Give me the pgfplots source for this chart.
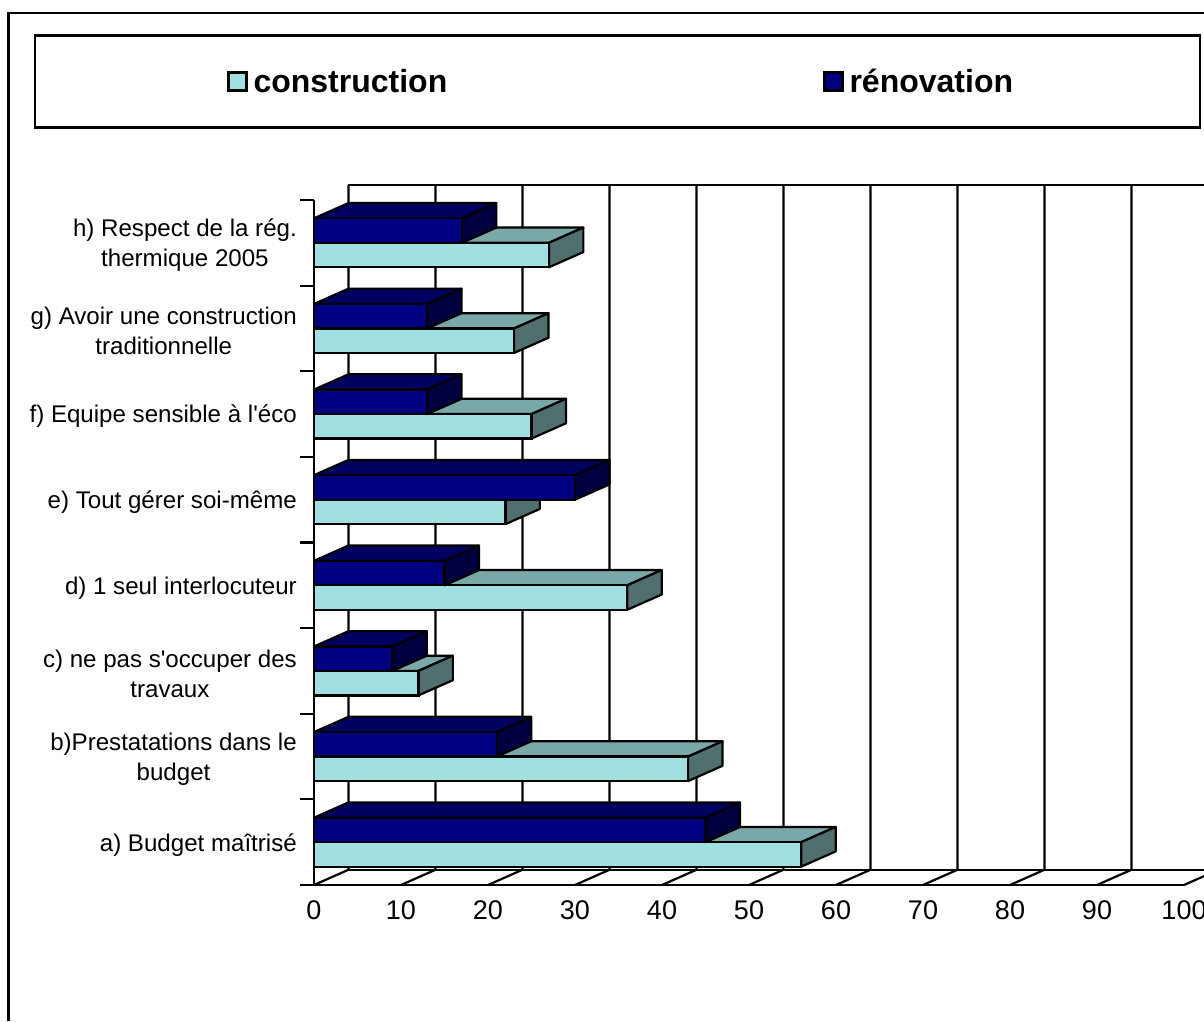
\documentclass[border=0pt]{standalone}
\usepackage{pgfplots}
\usepackage{pgfplotstable}
\usepackage{fontspec}
\setmainfont{Liberation Sans}
\newfontfamily\lfont{Liberation Sans}
\pgfplotsset{compat=1.18}
\definecolor{cfront}{HTML}{A0E0E0}
\definecolor{ctop}{HTML}{78A8A8}
\definecolor{cside}{HTML}{507070}
\definecolor{rfront}{HTML}{000080}
\definecolor{rtop}{HTML}{000060}
\definecolor{rside}{HTML}{000040}
\pgfplotstableread{
pos constr renov
0.5 56 45
1.5 43 21
2.5 12 9
3.5 36 15
4.5 22 30
5.5 25 13
6.5 23 13
7.5 27 17
}\chartdata
\def\dpx{3.96}
\def\dpy{0.178}
\def\bw{0.286}
% #1 y bottom of front, #2 value, #3 top colour, #4 side colour
\newcommand{\depthfaces}[4]{%
  \pgfmathsetmacro\yt{#1+\bw}%
  \pgfmathsetmacro\ytb{#1+\bw+\dpy}%
  \pgfmathsetmacro\ybb{#1+\dpy}%
  \pgfmathsetmacro\xb{#2+\dpx}%
  \addplot[forget plot,fill=#3,draw=black,line width=2.2pt,line join=round] coordinates {(0,\yt) (#2,\yt) (\xb,\ytb) (\dpx,\ytb)} --cycle;
  \addplot[forget plot,fill=#4,draw=black,line width=2.2pt,line join=round] coordinates {(#2,#1) (\xb,\ybb) (\xb,\ytb) (#2,\yt)} --cycle;
}
\begin{document}
\begin{tikzpicture}[x=1pt,y=1pt]
\useasboundingbox (0,0) rectangle (1204,1021);
\draw[line width=2.2pt] (8.5,0) -- (8.5,1008) -- (1204,1008);
\begin{axis}[
  at={(314pt,136pt)},anchor=south west,
  scale only axis,width=870pt,height=685pt,
  xmin=0,xmax=100,ymin=0,ymax=8,clip=false,
  axis x line*=bottom,axis y line*=left,
  axis line style={line width=2.2pt,-},
  xtick={0,10,...,100},
  ytick={0.5,1.5,...,7.5},
  minor ytick={0,1,...,8},
  yticklabels={{a) Budget maîtrisé},{b)Prestatations dans le\\budget},{c) ne pas s'occuper des\\travaux},{d) 1 seul interlocuteur},{e) Tout gérer soi-même},{f) Equipe sensible à l'éco},{g) Avoir une construction\\traditionnelle},{h) Respect de la rég.\\thermique 2005}},
  major tick length=0pt,minor tick length=14pt,tick align=outside,
  minor tick style={line width=2.2pt,black},
  /pgf/number format/assume math mode=true,
  xticklabel style={font=\fontsize{27}{32}\selectfont,inner sep=0pt,yshift=-15pt},
  yticklabel style={font=\lfont\fontsize{24.1}{30}\selectfont,align=center,inner sep=0pt,xshift=-17pt,yshift=-2.5pt},
  legend columns=2,
  legend image code/.code={\draw[#1,line width=2.2pt] (0pt,-9pt) rectangle (18pt,9pt);},
  legend style={at={(axis description cs:0.3491,1.173)},anchor=center,draw=black,line width=2.2pt,
    minimum width=1165pt,minimum height=92pt,
    nodes={minimum width=0pt,minimum height=0pt,inner sep=6pt,draw=none,line width=0pt},
    font=\fontsize{32}{38}\selectfont\bfseries,
    /tikz/every even column/.append style={column sep=370pt}},
]
% walls and floor
\pgfplotsinvokeforeach{0,10,...,100}{
  \pgfmathsetmacro\xw{#1+\dpx}
  \addplot[forget plot,black,line width=2.2pt] coordinates {(#1,0) (\xw,\dpy) (\xw,8.178)};
}
\addplot[forget plot,black,line width=2.2pt] coordinates {(\dpx,\dpy) (103.96,\dpy)};
\addplot[forget plot,black,line width=2.2pt] coordinates {(\dpx,8.178) (103.96,8.178)};
% construction
\pgfplotsforeachungrouped \i in {0,...,7}{
  \pgfplotstablegetelem{\i}{pos}\of\chartdata \let\vp\pgfplotsretval
  \pgfplotstablegetelem{\i}{constr}\of\chartdata \let\vv\pgfplotsretval
  \pgfmathsetmacro\yy{\vp-\bw}
  \depthfaces{\yy}{\vv}{ctop}{cside}
}
\addplot[xbar,bar width=24.5pt,bar shift=-12.25pt,fill=cfront,draw=black,line width=2.2pt] table[x=constr,y=pos]{\chartdata};
\addlegendentry{construction}
% renovation
\pgfplotsforeachungrouped \i in {0,...,7}{
  \pgfplotstablegetelem{\i}{pos}\of\chartdata \let\vp\pgfplotsretval
  \pgfplotstablegetelem{\i}{renov}\of\chartdata \let\vv\pgfplotsretval
  \depthfaces{\vp}{\vv}{rtop}{rside}
}
\addplot[xbar,bar width=24.5pt,bar shift=12.25pt,fill=rfront,draw=black,line width=2.2pt] table[x=renov,y=pos]{\chartdata};
\addlegendentry{rénovation\kern-11pt}
\end{axis}
\end{tikzpicture}
\end{document}
